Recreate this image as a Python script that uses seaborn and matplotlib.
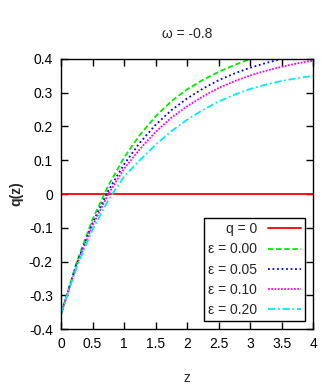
import matplotlib
matplotlib.use("Agg")
import matplotlib.pyplot as plt
import numpy as np
import pandas as pd
import seaborn as sns

# valores
z = [0.0, 0.25, 0.5, 0.75, 1.0, 1.25, 1.5, 1.75, 2.0, 2.25, 2.5, 2.75,
     3.0, 3.25, 3.5, 3.75, 4.0]
q_zero = [0.0] * len(z)
q_e000 = [-0.355, -0.20, -0.075, 0.025, 0.108, 0.175, 0.23, 0.275, 0.31,
          0.338, 0.362, 0.382, 0.40, 0.416, 0.43, 0.442, 0.452]
q_e005 = [-0.355, -0.205, -0.085, 0.01, 0.088, 0.152, 0.205, 0.248, 0.283,
          0.312, 0.337, 0.357, 0.374, 0.388, 0.40, 0.41, 0.419]
q_e010 = [-0.355, -0.21, -0.093, 0.0, 0.075, 0.133, 0.184, 0.226, 0.26,
          0.289, 0.314, 0.334, 0.351, 0.365, 0.377, 0.387, 0.395]
q_e020 = [-0.355, -0.215, -0.105, -0.018, 0.052, 0.1, 0.146, 0.186, 0.22,
          0.249, 0.274, 0.294, 0.311, 0.324, 0.335, 0.343, 0.35]

labels = ["q = 0", "ε = 0.00", "ε = 0.05", "ε = 0.10", "ε = 0.20"]
series = [q_zero, q_e000, q_e005, q_e010, q_e020]

COLORS = ["#FF0000", "#00EE00", "#0000FF", "#FF00FF", "#00EEEE"]
DASHES = ["-", (0, (3, 1.5)), (0, (1, 1.5)), (0, (1, 0.8)), (0, (4, 1.5, 1, 1.5))]

sns.set_style("ticks")
plt.rcParams["font.family"] = ["Liberation Sans Narrow", "Liberation Sans",
                               "DejaVu Sans"]

fig = plt.figure(figsize=(3.32, 3.88), dpi=100)
ax = fig.add_axes([0.184, 0.152, 0.759, 0.696])

for lab, vals, col, ls in zip(labels, series, COLORS, DASHES):
    df = pd.DataFrame({"z": z, "q": vals})
    sns.lineplot(data=df, x="z", y="q", ax=ax, color=col, label=lab,
                 linewidth=1.3, linestyle=ls)

ax.set_xlim(0, 4)
ax.set_ylim(-0.4, 0.4)
ax.set_xticks(np.arange(0, 4.01, 0.5))
ax.set_xticklabels(["0", "0.5", "1", "1.5", "2", "2.5", "3", "3.5", "4"])
ax.set_yticks(np.arange(-0.4, 0.41, 0.1))
ax.set_yticklabels(["-0.4", "-0.3", "-0.2", "-0.1", "0", "0.1", "0.2",
                    "0.3", "0.4"])
ax.tick_params(direction="in", top=True, right=True, length=5, width=1,
               labelsize=10, pad=6, colors="black")
for sp in ax.spines.values():
    sp.set_linewidth(1)
    sp.set_color("black")

ax.set_title("ω = -0.8", fontsize=10, pad=15)
ax.set_xlabel("z", fontsize=10, labelpad=14)
ax.set_ylabel("q(z)", fontsize=10, fontweight="bold", labelpad=4)

leg = ax.legend(loc="lower right", markerfirst=False, fontsize=10,
                frameon=True, fancybox=False, handlelength=2.4,
                borderaxespad=0.55, labelspacing=0.45, handletextpad=0.8,
                borderpad=0.3)
leg.get_frame().set_edgecolor("black")
leg.get_frame().set_linewidth(1)
leg.get_frame().set_alpha(1)

fig.savefig("out.png", dpi=100, facecolor="white")
plt.close(fig)
